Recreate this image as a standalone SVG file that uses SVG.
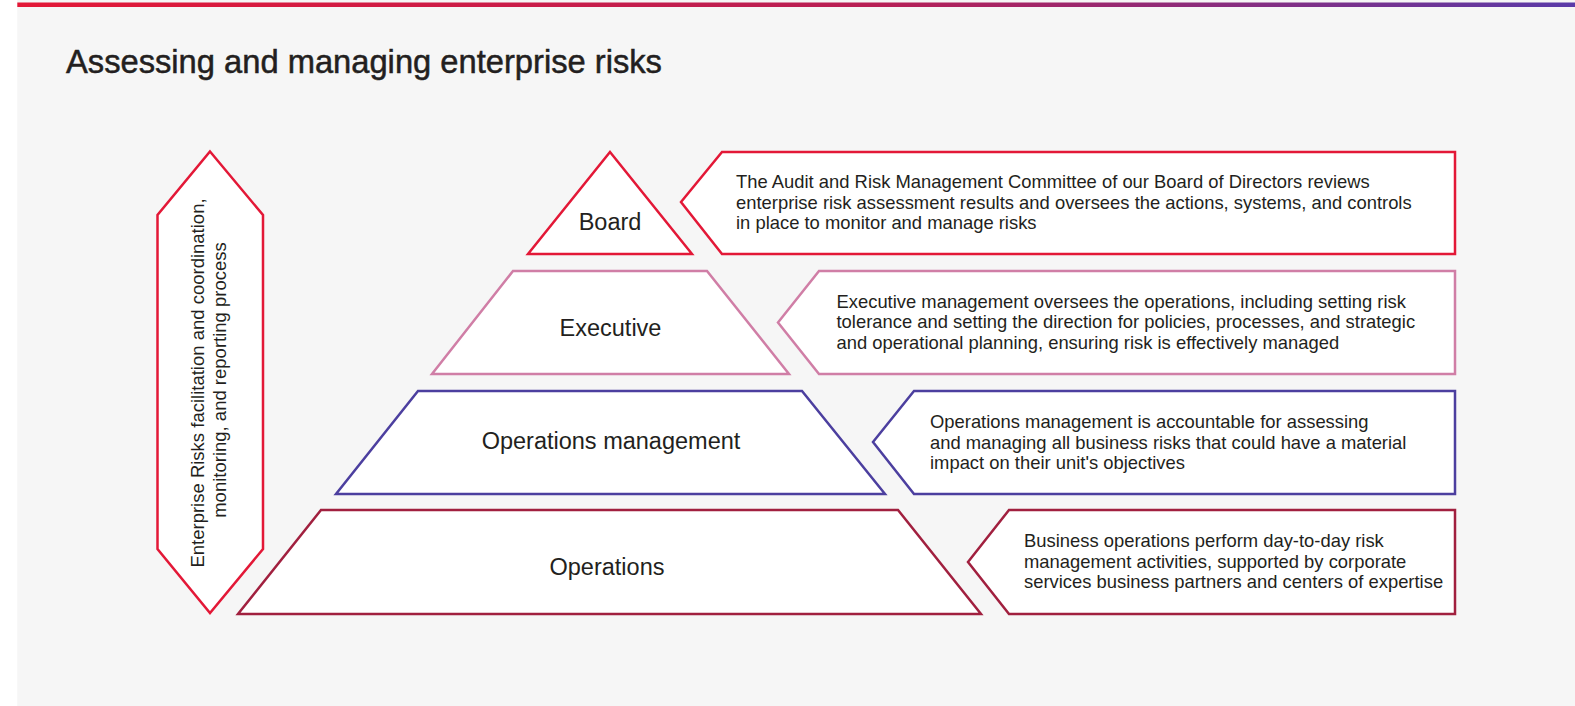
<svg xmlns="http://www.w3.org/2000/svg" width="1575" height="706" viewBox="0 0 1575 706">
<defs>
<linearGradient id="topbar" x1="0" y1="0" x2="1" y2="0">
<stop offset="0" stop-color="#e31837"/>
<stop offset="0.55" stop-color="#b81f55"/>
<stop offset="1" stop-color="#5a3aa8"/>
</linearGradient>
<style>
.shape{fill:#ffffff;stroke-width:2.5;stroke-linejoin:miter}
.red{stroke:#e31837}
.pink{stroke:#d07ea6}
.purple{stroke:#4c3f9f}
.maroon{stroke:#a1203f}
.lvl{font-family:"Liberation Sans",Arial,sans-serif;font-size:23.5px;fill:#231f20;text-anchor:middle}
.desc{font-family:"Liberation Sans",Arial,sans-serif;font-size:18.4px;fill:#231f20}
.side{font-family:"Liberation Sans",Arial,sans-serif;font-size:18.5px;fill:#231f20;text-anchor:middle}
.title{font-family:"Liberation Sans",Arial,sans-serif;font-size:32.7px;fill:#231f20;stroke:#231f20;stroke-width:0.5}
</style>
</defs>
<rect x="0" y="0" width="1575" height="706" fill="#ffffff"/>
<rect x="17.3" y="0" width="1558" height="706" fill="#f6f6f6"/>
<rect x="17.3" y="2.5" width="1558" height="4.5" fill="url(#topbar)"/>
<text class="title" x="66" y="72.5">Assessing and managing enterprise risks</text>

<g id="side-process">
<polygon class="shape red" points="210,151.5 263,215 263,549 210,613 157.5,549 157.5,215"/>
<text class="side" transform="translate(210,0) rotate(-90)"><tspan x="-383" y="-6">Enterprise Risks facilitation and coordination,</tspan><tspan x="-380" y="16">monitoring, and reporting process</tspan></text>
</g>

<g id="board">
<polygon class="shape red" points="610,152 692,254 528,254"/>
<text class="lvl" x="610" y="229.5">Board</text>
</g>
<g id="executive">
<polygon class="shape pink" points="513,271 707,271 789,374 432,374"/>
<text class="lvl" x="610.5" y="335.5">Executive</text>
</g>
<g id="operations-management">
<polygon class="shape purple" points="418,391 802,391 885,494 336,494"/>
<text class="lvl" x="611" y="449">Operations management</text>
</g>
<g id="operations">
<polygon class="shape maroon" points="321,510 898,510 981,614 238,614"/>
<text class="lvl" x="607" y="575">Operations</text>
</g>

<g id="board-desc">
<polygon class="shape red" points="681,202 722,152 1455,152 1455,254 722,254"/>
<text class="desc"><tspan x="736" y="188">The Audit and Risk Management Committee of our Board of Directors reviews</tspan><tspan x="736" y="208.5">enterprise risk assessment results and oversees the actions, systems, and controls</tspan><tspan x="736" y="229">in place to monitor and manage risks</tspan></text>
</g>
<g id="executive-desc">
<polygon class="shape pink" points="778,322.5 819,271 1455,271 1455,374 819,374"/>
<text class="desc"><tspan x="836.5" y="307.5">Executive management oversees the operations, including setting risk</tspan><tspan x="836.5" y="328">tolerance and setting the direction for policies, processes, and strategic</tspan><tspan x="836.5" y="348.5">and operational planning, ensuring risk is effectively managed</tspan></text>
</g>
<g id="operations-management-desc">
<polygon class="shape purple" points="873,442 914,391 1455,391 1455,494 914,494"/>
<text class="desc"><tspan x="930" y="428">Operations management is accountable for assessing</tspan><tspan x="930" y="448.5">and managing all business risks that could have a material</tspan><tspan x="930" y="469">impact on their unit's objectives</tspan></text>
</g>
<g id="operations-desc">
<polygon class="shape maroon" points="968,562 1009,510 1455,510 1455,614 1009,614"/>
<text class="desc"><tspan x="1024" y="547">Business operations perform day-to-day risk</tspan><tspan x="1024" y="567.5">management activities, supported by corporate</tspan><tspan x="1024" y="588">services business partners and centers of expertise</tspan></text>
</g>
<g id="connectors"></g>
</svg>
